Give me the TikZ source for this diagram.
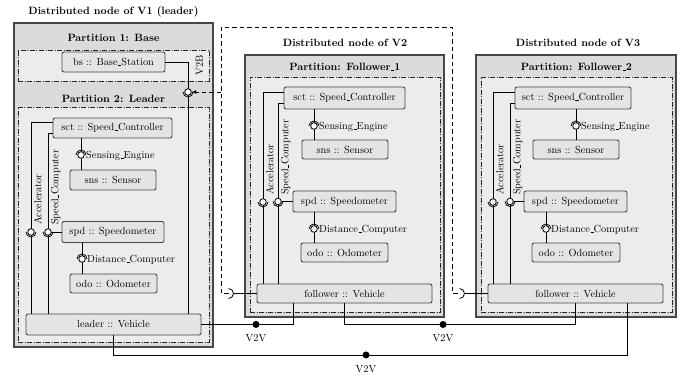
\documentclass[tikz,border=0pt]{standalone}
\usetikzlibrary{calc,arrows.meta}
\definecolor{outerfill}{gray}{0.86}
\definecolor{innerfill}{gray}{0.925}
\definecolor{nodefill}{gray}{0.895}
\definecolor{edgegray}{gray}{0.28}
\newcommand{\sockat}[3]{\draw[wire] (#1) ++(#2:5) arc[start angle=#2, delta angle=180, radius=5];}
\newcommand{\usc}{\leavevmode\kern.06em\vbox{\hrule width.3em}}
\begin{document}
\begin{tikzpicture}[x=1pt,y=-1pt,
  every node/.style={font=\fontsize{10.3}{12}\selectfont},
  comp/.style={draw=edgegray, line width=0.9pt, fill=nodefill, rounded corners=2pt, inner sep=0pt},
  outerbox/.style={draw=edgegray, line width=1.3pt, fill=outerfill, inner sep=0pt},
  partbox/.style={draw=black!85, dash pattern=on 5pt off 1.5pt on 1pt off 1.5pt, line width=0.6pt, fill=innerfill, inner sep=0pt},
  wire/.style={line width=0.8pt, black},
  ball/.style={circle, draw=black, fill=white, line width=0.8pt, minimum size=6.6pt, inner sep=0pt},
  dot/.style={circle, fill=black, minimum size=7pt, inner sep=0pt},
  ttl/.style={font=\fontsize{10.6}{12}\selectfont\bfseries},
  vlab/.style={rotate=90, anchor=north west, inner sep=0.8pt},
  dsh/.style={line width=0.75pt, dash pattern=on 4.5pt off 3pt}]
\useasboundingbox (0,0) rectangle (694,379);
% ---------- V1 ----------
\node[ttl] (t1) at (113.5,12) {Distributed node of V1 (leader)};
\node[outerbox, minimum width=199, minimum height=324] (V1) at (113.5,185) {};
\node[partbox, minimum width=191, minimum height=31] (P1) at (113.5,65.5) {};
\node[partbox, minimum width=191, minimum height=235] (P2) at (113.5,224.5) {};
\node[ttl] (p1t) at (113.5,37.5) {Partition 1: Base};
\node[ttl] (p2t) at (113.5,99) {Partition 2: Leader};
\node[comp, minimum width=103, minimum height=20] (bsA) at (113.5,62) {bs :: Base\usc Station};
\node[comp, minimum width=119, minimum height=20] (sctA) at (112.5,128) {sct :: Speed\usc Controller};
\node[comp, minimum width=86, minimum height=20] (snsA) at (113,180) {sns :: Sensor};
\node[comp, minimum width=102, minimum height=21] (spdA) at (113,232) {spd :: Speedometer};
\node[comp, minimum width=87, minimum height=19] (odoA) at (113.5,283.5) {odo :: Odometer};
\node[comp, minimum width=175, minimum height=21] (leaderA) at (113.5,324.5) {leader :: Vehicle};
% ---------- V2 ----------
\node[ttl] (t2) at (345,43) {Distributed node of V2};
\node[outerbox, minimum width=199, minimum height=262] (V2) at (344.5,186) {};
\node[partbox, minimum width=190, minimum height=235] (PB) at (345,194.5) {};
\node[ttl] (pbt) at (345,67) {Partition: Follower\usc 1};
\node[comp, minimum width=121, minimum height=22] (sctB) at (344.5,98) {sct :: Speed\usc Controller};
\node[comp, minimum width=86, minimum height=19] (snsB) at (345,149.5) {sns :: Sensor};
\node[comp, minimum width=103, minimum height=21] (spdB) at (344.5,201.5) {spd :: Speedometer};
\node[comp, minimum width=87, minimum height=19] (odoB) at (344.5,252.5) {odo :: Odometer};
\node[comp, minimum width=175, minimum height=19] (follB) at (344.5,293.5) {follower :: Vehicle};
% ---------- V3 ----------
\node[ttl] (t3) at (578,43) {Distributed node of V3};
\node[outerbox, minimum width=200, minimum height=262] (V3) at (576,186) {};
\node[partbox, minimum width=191, minimum height=235] (PC) at (576.5,194.5) {};
\node[ttl] (pct) at (576.5,67) {Partition: Follower\usc 2};
\node[comp, minimum width=116, minimum height=22] (sctC) at (573,98) {sct :: Speed\usc Controller};
\node[comp, minimum width=86, minimum height=19] (snsC) at (576,149.5) {sns :: Sensor};
\node[comp, minimum width=103, minimum height=21] (spdC) at (575.5,201.5) {spd :: Speedometer};
\node[comp, minimum width=88, minimum height=19] (odoC) at (576,252.5) {odo :: Odometer};
\node[comp, minimum width=175, minimum height=19] (follC) at (575.5,293.5) {follower :: Vehicle};
% ---------- wires V1 ----------
\draw[wire] ([yshift=-5pt]sctA.north west) -| (leaderA.north -| 31,0);
\draw[wire] ([yshift=-16pt]sctA.north west) -| (leaderA.north -| 48,0);
\draw[wire] (spdA.west) -- (48,232);
\draw[wire] (sctA.south -| 81,0) -- (snsA.north -| 81,0);
\draw[wire] (spdA.south -| 82,0) -- (odoA.north -| 82,0);
\draw[wire] (bsA.east) -| (leaderA.north -| 188,0);
% ---------- wires V2 ----------
\draw[wire] ([yshift=-6pt]sctB.north west) -| (follB.north -| 263,0);
\draw[wire] ([yshift=-17pt]sctB.north west) -| (follB.north -| 278,0);
\draw[wire] (spdB.west) -- (278,201.5);
\draw[wire] (sctB.south -| 314,0) -- (snsB.north -| 314,0);
\draw[wire] (spdB.south -| 314,0) -- (odoB.north -| 314,0);
% ---------- wires V3 ----------
\draw[wire] ([yshift=-6pt]sctC.north west) -| (follC.north -| 493,0);
\draw[wire] ([yshift=-17pt]sctC.north west) -| (follC.north -| 510,0);
\draw[wire] (spdC.west) -- (510,201.5);
\draw[wire] (sctC.south -| 576,0) -- (snsC.north -| 576,0);
\draw[wire] (spdC.south -| 546,0) -- (odoC.north -| 546,0);
% ---------- balls and sockets ----------
\foreach \n/\x/\y/\a in {accA/31/232/0, scA/48/232/0, seA/81/155/180, dcA/82/259/180, v2b/188/92/0,
  accB/263/202/0, scB/278/201.5/0, seB/314/126/180, dcB/314/229/180,
  accC/493/202/0, scC/510/201.5/0, seC/576/126/180, dcC/546/229/180}{
  \node[ball] (\n) at (\x,\y) {};
  \sockat{\n}{\a}{}
}
% labels
\node[vlab] (lAccA) at (33,226) {Accelerator};
\node[vlab] (lScA) at (50,226) {Speed\usc Computer};
\node[vlab] (lAccB) at (265,196) {Accelerator};
\node[vlab] (lScB) at (280,196) {Speed\usc Computer};
\node[vlab] (lAccC) at (495,196) {Accelerator};
\node[vlab] (lScC) at (512,196) {Speed\usc Computer};
\node[rotate=90, inner sep=0pt] (lv2b) at (199.5,65) {V2B};
\node[anchor=west, inner sep=1pt] (lseA) at (85,155.5) {Sensing\usc Engine};
\node[anchor=west, inner sep=1pt] (ldcA) at (86,259.5) {Distance\usc Computer};
\node[anchor=west, inner sep=1pt] (lseB) at (318,126.5) {Sensing\usc Engine};
\node[anchor=west, inner sep=1pt] (ldcB) at (318,229.5) {Distance\usc Computer};
\node[anchor=west, inner sep=1pt] (lseC) at (580,126.5) {Sensing\usc Engine};
\node[anchor=west, inner sep=1pt] (ldcC) at (550,229.5) {Distance\usc Computer};
% ---------- required sockets on followers ----------
\coordinate (skB) at (228.5,293.5);
\coordinate (skC) at (459.5,293.5);
\draw[wire] (follB.west) -- (233.5,293.5);
\draw[wire] (follC.west) -- (464.5,293.5);
\sockat{skB}{-90}{}
\sockat{skC}{-90}{}
% ---------- dashed V2B broadcast ----------
\coordinate (dBL) at (221,293.5);
\coordinate (dTL) at (221,27);
\coordinate (dTR) at (452,27);
\coordinate (dBR) at (452,293.5);
\coordinate (dArr) at (221,92);
\draw[dsh] (skB) -- (dBL) -- (dTL) -- (dTR) -- (dBR) -- (skC);
\draw[dsh, -{Latex[length=4.5pt,width=4pt]}] (dArr) -- (v2b.east);
% ---------- V2V links ----------
\draw[wire] (leaderA.east) -| (follB.south -| 293,0);
\draw[wire] (follB.south) -- (344.5,324.5) -| (follC.south);
\draw[wire] (leaderA.south) -- (113.5,355) -| (follC.south -| 627,0);
\node[dot] (d1) at (256,324.5) {};
\node[dot] (d2) at (443,324.5) {};
\node[dot] (d3) at (366,355) {};
\node (l1) at (256,338) {V2V};
\node (l2) at (443,338) {V2V};
\node (l3) at (366,369) {V2V};
\end{tikzpicture}
\end{document}
